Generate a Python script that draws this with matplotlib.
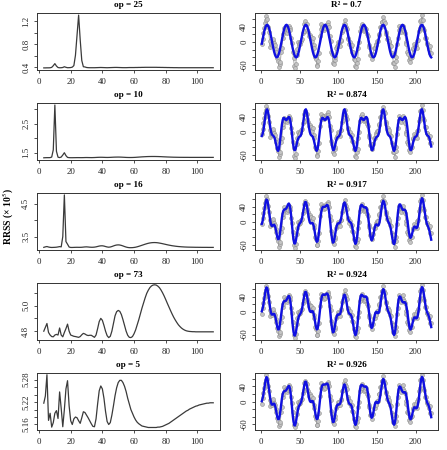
import numpy as np
import matplotlib
matplotlib.use("Agg")
import matplotlib.pyplot as plt

plt.rcParams['font.family'] = ['Liberation Serif', 'DejaVu Serif']
plt.rcParams['mathtext.fontset'] = 'stix'
plt.rcParams['axes.unicode_minus'] = False

# ---------------- data ----------------
periods = np.arange(3, 111)

rrss_op25 = [0.392, 0.392, 0.393, 0.393, 0.394, 0.401, 0.430, 0.466, 0.424, 0.398,
             0.394, 0.395, 0.399, 0.412, 0.402, 0.395, 0.396, 0.398, 0.405, 0.432,
             0.610, 0.960, 1.310, 0.880, 0.520, 0.412, 0.408, 0.399, 0.396, 0.395,
             0.395, 0.395, 0.395, 0.396, 0.397, 0.398, 0.399, 0.398, 0.397, 0.396,
             0.395, 0.396, 0.397, 0.398, 0.399, 0.400, 0.400, 0.399, 0.398, 0.397,
             0.396, 0.396, 0.396, 0.397, 0.398, 0.398, 0.398, 0.398, 0.399, 0.399,
             0.400, 0.400, 0.401, 0.401, 0.402, 0.402, 0.402, 0.402, 0.402, 0.402,
             0.402, 0.402, 0.401, 0.401, 0.400, 0.400, 0.399, 0.399, 0.398, 0.398,
             0.397, 0.397, 0.396, 0.396, 0.396, 0.395, 0.395, 0.395, 0.395, 0.395,
             0.395, 0.395, 0.395, 0.395, 0.395, 0.395, 0.395, 0.395, 0.395, 0.395,
             0.395, 0.395, 0.395, 0.395, 0.395, 0.395, 0.395, 0.395]

rrss_op10 = [1.325, 1.328, 1.330, 1.330, 1.331, 1.350, 1.600, 3.150, 1.550, 1.345,
             1.332, 1.350, 1.420, 1.500, 1.400, 1.338, 1.330, 1.328, 1.328, 1.329,
             1.330, 1.331, 1.331, 1.330, 1.330, 1.331, 1.333, 1.334, 1.333, 1.332,
             1.331, 1.332, 1.334, 1.337, 1.340, 1.342, 1.343, 1.342, 1.340, 1.338,
             1.337, 1.338, 1.340, 1.343, 1.346, 1.348, 1.349, 1.350, 1.349, 1.347,
             1.344, 1.341, 1.338, 1.336, 1.335, 1.335, 1.336, 1.338, 1.341, 1.345,
             1.349, 1.353, 1.357, 1.360, 1.363, 1.366, 1.368, 1.369, 1.370, 1.370,
             1.370, 1.369, 1.368, 1.366, 1.364, 1.361, 1.358, 1.356, 1.353, 1.351,
             1.349, 1.347, 1.345, 1.344, 1.343, 1.342, 1.341, 1.341, 1.340, 1.340,
             1.340, 1.340, 1.339, 1.339, 1.339, 1.339, 1.339, 1.339, 1.339, 1.339,
             1.339, 1.339, 1.339, 1.339, 1.339, 1.339, 1.339, 1.339]

rrss_op16 = [3.175, 3.190, 3.200, 3.185, 3.176, 3.172, 3.174, 3.176, 3.180, 3.188,
             3.198, 3.190, 3.500, 4.760, 3.350, 3.270, 3.185, 3.172, 3.172, 3.174,
             3.176, 3.177, 3.176, 3.176, 3.178, 3.183, 3.188, 3.190, 3.186, 3.181,
             3.178, 3.178, 3.182, 3.190, 3.202, 3.214, 3.221, 3.222, 3.214, 3.200,
             3.187, 3.180, 3.186, 3.200, 3.218, 3.235, 3.246, 3.250, 3.246, 3.234,
             3.218, 3.200, 3.184, 3.172, 3.166, 3.165, 3.167, 3.172, 3.180, 3.192,
             3.206, 3.222, 3.238, 3.254, 3.270, 3.285, 3.298, 3.308, 3.315, 3.319,
             3.320, 3.318, 3.313, 3.305, 3.296, 3.286, 3.275, 3.264, 3.253, 3.243,
             3.234, 3.225, 3.218, 3.211, 3.205, 3.200, 3.196, 3.192, 3.189, 3.186,
             3.184, 3.182, 3.181, 3.180, 3.179, 3.178, 3.177, 3.177, 3.176, 3.176,
             3.175, 3.175, 3.175, 3.175, 3.174, 3.174, 3.174, 3.174]

rrss_op73 = [4.800, 4.830, 4.860, 4.790, 4.770, 4.758, 4.756, 4.770, 4.775, 4.770,
             4.825, 4.770, 4.756, 4.790, 4.820, 4.855, 4.800, 4.770, 4.765, 4.760,
             4.758, 4.755, 4.752, 4.758, 4.772, 4.783, 4.778, 4.770, 4.766, 4.768,
             4.768, 4.760, 4.752, 4.770, 4.820, 4.875, 4.900, 4.885, 4.845, 4.800,
             4.765, 4.750, 4.760, 4.800, 4.860, 4.920, 4.952, 4.962, 4.955, 4.930,
             4.890, 4.845, 4.800, 4.768, 4.752, 4.750, 4.758, 4.780, 4.810, 4.850,
             4.890, 4.935, 4.980, 5.020, 5.060, 5.095, 5.120, 5.140, 5.153, 5.160,
             5.162, 5.160, 5.152, 5.140, 5.122, 5.100, 5.075, 5.047, 5.018, 4.990,
             4.962, 4.935, 4.910, 4.888, 4.868, 4.850, 4.836, 4.824, 4.815, 4.808,
             4.803, 4.800, 4.798, 4.797, 4.796, 4.796, 4.795, 4.795, 4.795, 4.795,
             4.795, 4.795, 4.795, 4.795, 4.795, 4.795, 4.795, 4.795]

rrss_op5 = [5.217, 5.236, 5.293, 5.171, 5.190, 5.153, 5.165, 5.190, 5.197, 5.176,
            5.247, 5.203, 5.154, 5.200, 5.255, 5.277, 5.210, 5.170, 5.160, 5.175,
            5.180, 5.178, 5.170, 5.163, 5.178, 5.194, 5.192, 5.185, 5.178, 5.170,
            5.162, 5.155, 5.154, 5.175, 5.215, 5.250, 5.263, 5.255, 5.230, 5.195,
            5.168, 5.160, 5.165, 5.185, 5.210, 5.237, 5.258, 5.272, 5.278, 5.278,
            5.272, 5.262, 5.248, 5.230, 5.215, 5.200, 5.190, 5.180, 5.172, 5.166,
            5.162, 5.159, 5.156, 5.155, 5.154, 5.153, 5.152, 5.152, 5.152, 5.152,
            5.152, 5.152, 5.153, 5.153, 5.154, 5.155, 5.157, 5.159, 5.161, 5.163,
            5.166, 5.169, 5.172, 5.175, 5.178, 5.181, 5.184, 5.187, 5.190, 5.193,
            5.196, 5.198, 5.201, 5.203, 5.205, 5.207, 5.209, 5.210, 5.212, 5.213,
            5.214, 5.215, 5.216, 5.217, 5.217, 5.218, 5.218, 5.218]

time = np.arange(1, 221)
observed = [-6, 9, 23, 37, 49, 57, 69, 61, 41, 27,
            4, -12, -4, -9, 3, 7, -3, -9, -19, -26,
            -43, -51, -65, -58, -53, -27, -15, 12, 21, 38,
            30, 34, 25, 35, 31, 43, 38, 31, 11, -3,
            -27, -43, -62, -68, -59, -33, -17, -1, -6, 1,
            -4, 4, 7, 23, 30, 48, 55, 48, 47, 33,
            27, 15, 19, 9, 14, 3, 10, -9, -16, -39,
            -45, -61, -62, -51, -29, 15, 35, 48, 39, 43,
            33, 41, 36, 46, 42, 53, 46, 40, 15, 4,
            -25, -32, -54, -59, -46, -39, -16, -11, -1, -9,
            -2, -10, 4, 6, 27, 31, 48, 47, 57, 41,
            34, 11, 7, -4, 1, -12, -8, -25, -26, -45,
            -46, -63, -66, -54, -44, -15, -1, 29, 41, 47,
            36, 40, 28, 37, 31, 35, 21, 15, -9, -14,
            -34, -34, -45, -32, -33, -16, -16, -4, -9, 2,
            2, 19, 21, 39, 39, 54, 54, 67, 55, 49,
            26, 22, 7, 11, 0, 4, -9, -11, -29, -34,
            -54, -54, -65, -51, -39, -5, 11, 43, 32, 37,
            26, 36, 33, 43, 28, 24, 1, -6, -26, -31,
            -47, -43, -53, -41, -39, -18, -16, -6, -14, -7,
            -16, 2, 6, 29, 36, 56, 59, 71, 57, 36,
            31, 12, 12, -4, -2, -9, -17, -11, -29, -30]

fit_periods = [[25], [25, 10], [25, 10, 16], [25, 10, 16, 73], [25, 10, 16, 73, 5]]
left_titles = ['op = 25', 'op = 10', 'op = 16', 'op = 73', 'op = 5']
right_titles = ['R² = 0.7', 'R² = 0.874', 'R² = 0.917', 'R² = 0.924', 'R² = 0.926']
left_series = [rrss_op25, rrss_op10, rrss_op16, rrss_op73, rrss_op5]
left_yticks = [[0.4, 0.6, 0.8, 1.0, 1.2], [1.5, 2.0, 2.5, 3.0], [3.5, 4.0, 4.5],
               [4.8, 4.9, 5.0, 5.1], [5.16, 5.18, 5.20, 5.22, 5.24, 5.26, 5.28]]
left_yticklabels = [['0.4', '', '0.8', '', '1.2'], ['1.5', '', '2.5', ''], ['3.5', '', '4.5'],
                    ['4.8', '', '5.0', ''], ['5.16', '', '', '5.22', '', '', '5.28']]
left_xticks = [0, 20, 40, 60, 80, 100]
right_xticks = [0, 50, 100, 150, 200]
right_yticks = [-60, -40, -20, 0, 20, 40, 60]
right_yticklabels = ['-60', '', '', '0', '', '40', '']
ylabel_text = 'RRSS (× 10$^5$)'


def harmonic_fit(t, y, plist):
    t = np.asarray(t, dtype=float)
    cols = [np.ones_like(t)]
    for p in plist:
        cols += [np.cos(2 * np.pi * t / p), np.sin(2 * np.pi * t / p)]
    X = np.column_stack(cols)
    beta, *_ = np.linalg.lstsq(X, np.asarray(y, float), rcond=None)
    return X @ beta


# ---------------- layout ----------------
W, H = 447, 450
fig = plt.figure(figsize=(W / 100, H / 100), dpi=100)
row_tops = [13 + 89.9 * i for i in range(5)]
row_h = 57
lx0, rx0, aw = 37, 255, 183

tick_fs = 6.3
title_fs = 6.6
spine_col = '#333333'


def style_axes(ax):
    for s in ax.spines.values():
        s.set_linewidth(0.7)
        s.set_color(spine_col)
    ax.tick_params(axis='both', length=2.3, width=0.6, color=spine_col,
                   labelsize=tick_fs, labelcolor='#222222')
    ax.tick_params(axis='x', pad=3.6)
    ax.tick_params(axis='y', pad=2.6, labelrotation=90)
    for lab in ax.get_yticklabels():
        lab.set_va('center')
    ax.margins(x=0.04, y=0.04)


for i in range(5):
    top = row_tops[i]
    bottom = 1 - (top + row_h) / H
    # left panel
    axl = fig.add_axes([lx0 / W, bottom, aw / W, row_h / H])
    axl.plot(periods, left_series[i], color='#3a3a3a', lw=0.9)
    axl.set_xticks(left_xticks)
    axl.set_yticks(left_yticks[i])
    axl.set_yticklabels(left_yticklabels[i])
    axl.set_title(left_titles[i], fontsize=title_fs, fontweight='bold', pad=4.0)
    style_axes(axl)

    # right panel
    axr = fig.add_axes([rx0 / W, bottom, aw / W, row_h / H])
    fit = harmonic_fit(time, observed, fit_periods[i])
    axr.plot(time, observed, color='#9a9a9a', lw=0.6, marker='o', ms=2.8,
             mfc='#c4c4c4', mec='#8e8e8e', mew=0.4, zorder=2)
    axr.plot(time, fit, color='#1010e0', lw=1.7, zorder=3)
    axr.set_xticks(right_xticks)
    axr.set_yticks(right_yticks)
    axr.set_yticklabels(right_yticklabels)
    axr.set_title(right_titles[i], fontsize=title_fs, fontweight='bold', pad=4.0)
    style_axes(axr)

fig.text(8 / W, 1 - 216 / H, ylabel_text, rotation=90, ha='center', va='center',
         fontsize=7.0, fontweight='bold')

fig.savefig('out.png', dpi=100, facecolor='white')
